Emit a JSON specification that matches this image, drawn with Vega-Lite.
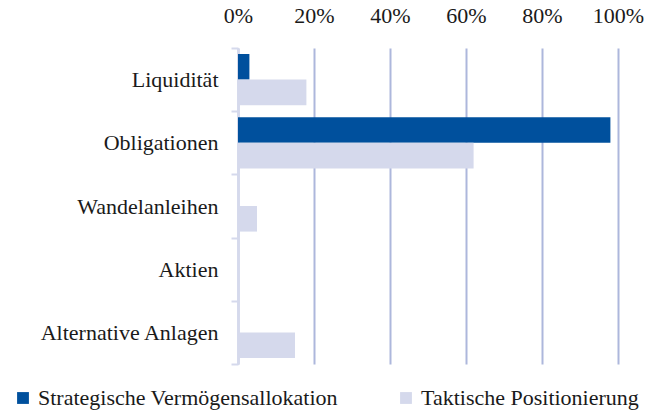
{
  "$schema": "https://vega.github.io/schema/vega-lite/v6.json",
  "width": 380,
  "height": 316,
  "autosize": {"type": "none"},
  "padding": {"left": 238, "top": 48, "right": 28, "bottom": 48},
  "background": "white",
  "config": {
    "view": {"stroke": null},
    "font": "'Liberation Serif', 'Times New Roman', serif"
  },
  "data": {
    "values": [
      {"category": "Liquidität", "series": "Strategische Vermögensallokation", "value": 0.03},
      {"category": "Liquidität", "series": "Taktische Positionierung", "value": 0.18},
      {"category": "Obligationen", "series": "Strategische Vermögensallokation", "value": 0.98},
      {"category": "Obligationen", "series": "Taktische Positionierung", "value": 0.62},
      {"category": "Wandelanleihen", "series": "Strategische Vermögensallokation", "value": 0},
      {"category": "Wandelanleihen", "series": "Taktische Positionierung", "value": 0.05},
      {"category": "Aktien", "series": "Strategische Vermögensallokation", "value": 0},
      {"category": "Aktien", "series": "Taktische Positionierung", "value": 0},
      {"category": "Alternative Anlagen", "series": "Strategische Vermögensallokation", "value": 0},
      {"category": "Alternative Anlagen", "series": "Taktische Positionierung", "value": 0.15}
    ]
  },
  "mark": {"type": "bar"},
  "encoding": {
    "y": {
      "field": "category",
      "type": "nominal",
      "sort": ["Liquidität", "Obligationen", "Wandelanleihen", "Aktien", "Alternative Anlagen"],
      "scale": {"paddingInner": 0, "paddingOuter": 0},
      "axis": {
        "title": null,
        "tickBand": "extent",
        "ticks": true,
        "tickSize": 7,
        "tickWidth": 2,
        "tickColor": "#d5d9ec",
        "domain": true,
        "domainColor": "#d5d9ec",
        "domainWidth": 2,
        "grid": false,
        "labelFont": "'Liberation Serif', 'Times New Roman', serif",
        "labelFontSize": 22,
        "labelColor": "#1a1a1a",
        "labelPadding": 13,
        "labelLimit": 300
      }
    },
    "yOffset": {
      "field": "series",
      "type": "nominal",
      "sort": ["Strategische Vermögensallokation", "Taktische Positionierung"],
      "scale": {"paddingInner": 0, "paddingOuter": 0.235}
    },
    "x": {
      "field": "value",
      "type": "quantitative",
      "scale": {"domain": [0, 1], "nice": false},
      "axis": {
        "orient": "top",
        "title": null,
        "values": [0, 0.2, 0.4, 0.6, 0.8, 1],
        "format": ".0%",
        "domain": false,
        "ticks": false,
        "tickSize": 0,
        "grid": true,
        "gridColor": "#adb7dc",
        "gridWidth": 2,
        "labelFont": "'Liberation Serif', 'Times New Roman', serif",
        "labelFontSize": 22,
        "labelColor": "#1a1a1a",
        "labelPadding": 21,
        "labelFlush": false
      }
    },
    "color": {
      "field": "series",
      "type": "nominal",
      "sort": ["Strategische Vermögensallokation", "Taktische Positionierung"],
      "scale": {"range": ["#00509d", "#d5d9ec"]},
      "legend": {
        "title": null,
        "orient": "none",
        "legendX": -226,
        "legendY": 339,
        "direction": "horizontal",
        "symbolType": "square",
        "symbolSize": 140,
        "symbolStrokeWidth": 0,
        "labelFont": "'Liberation Serif', 'Times New Roman', serif",
        "labelFontSize": 22,
        "labelColor": "#1a1a1a",
        "labelOffset": 4,
        "labelLimit": 400,
        "columnPadding": 57
      }
    }
  }
}
